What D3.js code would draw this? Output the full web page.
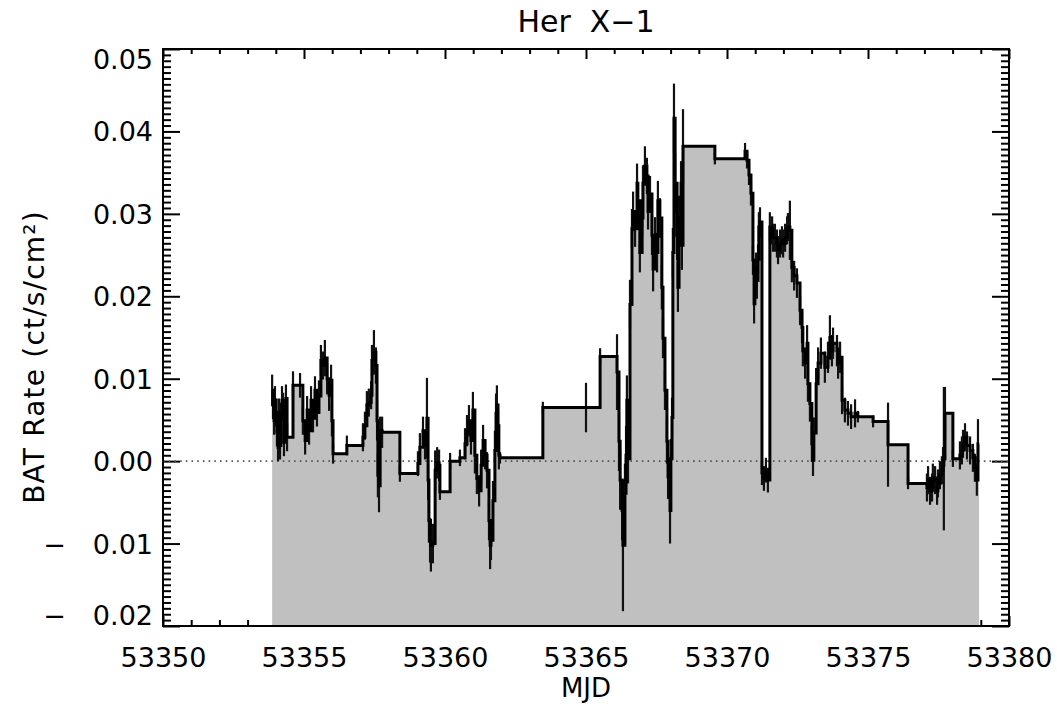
<!DOCTYPE html>
<html><head><meta charset="utf-8">
<script src="https://cdn.jsdelivr.net/npm/d3@7"></script>
<style>
body{margin:0;background:#fff}
svg text{font-family:"DejaVu Sans",sans-serif;fill:#000}
</style>
</head><body>
<svg id="chart" width="1057" height="704"></svg>
<script>
// ---- data ----
const mjd = [
53353.87,53353.90,53353.94,53353.97,53354.01,53354.04,53354.08,53354.11,53354.15,53354.18,
53354.22,53354.26,53354.29,53354.33,53354.36,53354.40,53354.61,53354.86,53354.96,53355.04,
53355.11,53355.18,53355.25,53355.32,53355.39,53355.46,53355.53,53355.60,53355.67,53355.74,
53355.82,53355.89,53355.96,53355.99,53356.03,53356.52,53357.09,53357.16,53357.23,53357.30,
53357.38,53357.41,53357.48,53357.55,53357.59,53357.62,53357.66,53357.70,53357.77,53358.40,
53359.04,53359.11,53359.22,53359.29,53359.36,53359.40,53359.43,53359.47,53359.50,53359.57,
53359.65,53359.72,53359.79,53359.82,53360.18,53360.53,53360.71,53360.78,53360.85,53360.92,
53360.99,53361.06,53361.13,53361.21,53361.28,53361.35,53361.42,53361.49,53361.56,53361.60,
53361.63,53361.70,53361.77,53361.81,53361.84,53361.88,53361.91,53361.95,53363.47,53365.00,
53365.50,53366.10,53366.17,53366.21,53366.28,53366.31,53366.38,53366.42,53366.45,53366.49,
53366.56,53366.63,53366.67,53366.74,53366.81,53366.84,53366.91,53366.99,53367.02,53367.09,
53367.16,53367.20,53367.27,53367.34,53367.38,53367.45,53367.52,53367.55,53367.62,53367.69,
53367.73,53367.80,53367.87,53367.91,53367.98,53368.01,53368.05,53368.08,53368.12,53368.16,
53368.23,53368.26,53368.30,53368.37,53368.40,53368.44,53369.57,53370.64,53370.71,53370.78,
53370.85,53370.92,53370.96,53370.99,53371.03,53371.06,53371.10,53371.13,53371.17,53371.24,
53371.31,53371.38,53371.45,53371.52,53371.60,53371.63,53371.70,53371.77,53371.81,53371.88,
53371.95,53371.99,53372.06,53372.13,53372.16,53372.23,53372.30,53372.38,53372.48,53372.59,
53372.66,53372.69,53372.77,53372.84,53372.87,53372.94,53373.01,53373.05,53373.08,53373.16,
53373.23,53373.33,53373.47,53373.58,53373.65,53373.72,53373.76,53373.90,53373.94,53374.01,
53374.08,53374.18,53374.29,53374.40,53374.54,53374.64,53375.18,53375.71,53376.42,53377.09,
53377.13,53377.20,53377.27,53377.30,53377.38,53377.45,53377.48,53377.55,53377.62,53377.66,
53377.69,53377.73,53378.01,53378.26,53378.33,53378.37,53378.44,53378.51,53378.62,53378.72,
53378.79,53378.86,53378.90
];
const rate = [
0.0086,0.0068,0.0049,0.0074,0.0059,0.0035,0.0017,0.0059,0.0019,0.0054,
0.0074,0.0066,0.0023,0.0049,0.0076,0.0029,0.0092,0.0092,0.0049,0.0025,
0.0062,0.0037,0.0074,0.0052,0.0086,0.0059,0.0079,0.0122,0.0116,0.0125,
0.0100,0.0080,0.0098,0.0049,0.0009,0.0019,0.0029,0.0043,0.0068,0.0071,
0.0080,0.0122,0.0132,0.0116,0.0049,-0.0017,-0.0030,0.0037,0.0035,-0.0015,
-0.0003,0.0017,0.0037,0.0019,0.0052,-0.0023,-0.0072,-0.0096,-0.0102,-0.0100,
-0.0011,-0.0002,-0.0005,-0.0037,0.0000,0.0004,0.0021,0.0037,0.0049,0.0025,
0.0062,0.0007,-0.0021,-0.0036,-0.0005,0.0025,0.0007,-0.0011,-0.0072,-0.0102,
-0.0096,-0.0048,0.0013,0.0058,0.0068,0.0043,0.0007,0.0004,0.0065,0.0065,
0.0127,0.0108,0.0024,-0.0023,-0.0060,-0.0102,-0.0039,0.0007,0.0074,0.0003,
0.0190,0.0282,0.0303,0.0282,0.0337,0.0316,0.0253,0.0295,0.0337,0.0358,
0.0346,0.0303,0.0324,0.0274,0.0233,0.0274,0.0253,0.0316,0.0295,0.0211,
0.0149,0.0086,0.0024,-0.0019,-0.0060,0.0003,0.0053,0.0253,0.0416,0.0337,
0.0274,0.0211,0.0295,0.0337,0.0262,0.0382,0.0367,0.0376,0.0365,0.0347,
0.0325,0.0244,0.0191,0.0213,0.0235,0.0219,0.0245,0.0284,0.0290,-0.0014,
-0.0021,-0.0011,-0.0023,0.0284,0.0280,0.0271,0.0271,0.0264,0.0256,0.0264,
0.0268,0.0264,0.0271,0.0280,0.0284,0.0280,0.0235,0.0225,0.0216,0.0183,
0.0162,0.0134,0.0119,0.0143,0.0094,0.0070,0.0021,0.0001,0.0034,0.0094,
0.0119,0.0131,0.0114,0.0126,0.0150,0.0134,0.0143,0.0134,0.0119,0.0126,
0.0074,0.0062,0.0058,0.0054,0.0058,0.0054,0.0048,0.0020,-0.0027,-0.0032,
-0.0023,-0.0036,-0.0032,-0.0020,-0.0023,-0.0036,-0.0027,-0.0017,-0.0011,-0.0005,
0.0003,0.0058,0.0003,0.0007,0.0013,0.0021,0.0029,0.0019,0.0013,0.0004,
-0.0008,-0.0023,0.0021
];
const rateErr = [
0.0019,0.0017,0.0017,0.0017,0.0017,0.0017,0.0017,0.0017,0.0017,0.0017,
0.0017,0.0017,0.0017,0.0017,0.0017,0.0017,0.0017,0.0015,0.0017,0.0017,
0.0017,0.0017,0.0017,0.0017,0.0017,0.0017,0.0019,0.0019,0.0017,0.0022,
0.0019,0.0019,0.0019,0.0019,0.0012,0.0012,0.0017,0.0017,0.0017,0.0017,
0.0017,0.0019,0.0027,0.0022,0.0024,0.0027,0.0032,0.0017,0.0019,0.0010,
0.0015,0.0017,0.0017,0.0017,0.0049,0.0024,0.0027,0.0027,0.0032,0.0024,
0.0024,0.0019,0.0019,0.0010,0.0010,0.0010,0.0019,0.0019,0.0019,0.0017,
0.0022,0.0022,0.0019,0.0019,0.0019,0.0019,0.0017,0.0022,0.0024,0.0029,
0.0024,0.0024,0.0024,0.0024,0.0024,0.0019,0.0017,0.0007,0.0007,0.0030,
0.0010,0.0046,0.0036,0.0036,0.0036,0.0080,0.0036,0.0036,0.0030,0.0030,
0.0030,0.0024,0.0024,0.0022,0.0024,0.0022,0.0024,0.0022,0.0022,0.0024,
0.0022,0.0022,0.0022,0.0024,0.0027,0.0022,0.0024,0.0024,0.0024,0.0027,
0.0024,0.0024,0.0027,0.0027,0.0040,0.0024,0.0024,0.0030,0.0042,0.0036,
0.0030,0.0030,0.0027,0.0027,0.0030,0.0045,0.0007,0.0010,0.0010,0.0012,
0.0015,0.0018,0.0024,0.0018,0.0018,0.0022,0.0018,0.0018,0.0018,0.0015,
0.0015,0.0015,0.0015,0.0018,0.0017,0.0017,0.0017,0.0017,0.0017,0.0017,
0.0017,0.0017,0.0017,0.0017,0.0017,0.0036,0.0018,0.0018,0.0018,0.0018,
0.0019,0.0019,0.0019,0.0022,0.0022,0.0022,0.0022,0.0019,0.0019,0.0019,
0.0019,0.0019,0.0019,0.0019,0.0027,0.0019,0.0019,0.0019,0.0019,0.0019,
0.0017,0.0015,0.0015,0.0015,0.0017,0.0007,0.0007,0.0051,0.0007,0.0017,
0.0017,0.0017,0.0017,0.0017,0.0017,0.0017,0.0017,0.0017,0.0017,0.0022,
0.0087,0.0032,0.0010,0.0017,0.0017,0.0017,0.0017,0.0017,0.0017,0.0017,
0.0017,0.0019,0.0030
];
const mjdEnd = 53378.94;
const xDomain = [53350, 53380];
const yDomain = [-0.02, 0.05];
const xTickValues = [53350, 53355, 53360, 53365, 53370, 53375, 53380];
const yTickValues = [-0.02, -0.01, 0.00, 0.01, 0.02, 0.03, 0.04, 0.05];
const titleText = "Her  X\u22121";
const xLabelText = "MJD";
const yLabelText = "BAT Rate (ct/s/cm\u00B2)";

// ---- layout ----
const L = 163, R = 1009, T = 49, B = 626;
const svg = d3.select("#chart");
const x = d3.scaleLinear(xDomain, [L, R]);
const y = d3.scaleLinear(yDomain, [B, T]);

const xMinor = d3.range(xDomain[0], xDomain[1] + 0.5, 1).filter(v => (v - xDomain[0]) % 5 !== 0);
const yMinor = d3.range(0, 99).map(k => yDomain[0] + k * 0.01 / 14).filter((v, k) => k % 14 !== 0);

// IDL-style labels: wide gap after the minus sign
const fmtY = v => {
  const s = d3.format(".2f")(Math.abs(v));
  return v < -1e-9 ? "\u2212\u2003" + s : s;
};

function tickAxis(gen, tx, ty, values, size) {
  const g = svg.append("g").attr("transform", `translate(${tx},${ty})`)
    .call(gen.tickValues(values).tickSizeInner(size).tickSizeOuter(0).tickFormat(""));
  g.select(".domain").remove();
  g.selectAll("line").attr("stroke", "#000").attr("stroke-width", 2);
  g.selectAll("text").remove();
  return g;
}
// ticks (all four sides), drawn under the fill
tickAxis(d3.axisLeft(y), L, 0, yTickValues, -17);
tickAxis(d3.axisLeft(y), L, 0, yMinor, -8);
tickAxis(d3.axisRight(y), R, 0, yTickValues, -17);
tickAxis(d3.axisRight(y), R, 0, yMinor, -8);
tickAxis(d3.axisTop(x), 0, T, xTickValues, -10);
tickAxis(d3.axisTop(x), 0, T, xMinor, -5);
tickAxis(d3.axisBottom(x), 0, B, xTickValues, -10);
tickAxis(d3.axisBottom(x), 0, B, xMinor, -6);

// ---- data marks ----
const pts = mjd.map((t, i) => [t, rate[i]]);
pts.push([mjdEnd, rate[rate.length - 1]]);

svg.append("path")
  .attr("d", d3.area().x(d => x(d[0])).y0(y(yDomain[0])).y1(d => y(d[1])).curve(d3.curveStepAfter)(pts))
  .attr("fill", "#c0c0c0");

// zero line
svg.append("line")
  .attr("x1", L).attr("x2", R).attr("y1", y(0)).attr("y2", y(0))
  .attr("stroke", "#555").attr("stroke-width", 1.6).attr("stroke-dasharray", "1.6,4.1");

// error bars
svg.append("g").selectAll("line").data(mjd).join("line")
  .attr("x1", d => x(d)).attr("x2", d => x(d))
  .attr("y1", (d, i) => y(rate[i] - rateErr[i]))
  .attr("y2", (d, i) => y(rate[i] + rateErr[i]))
  .attr("stroke", "#111").attr("stroke-width", 2.2);

// step curve
svg.append("path")
  .attr("d", d3.line().x(d => x(d[0])).y(d => y(d[1])).curve(d3.curveStepAfter)(pts))
  .attr("fill", "none").attr("stroke", "#000").attr("stroke-width", 3).attr("stroke-linejoin", "miter");

// frame
svg.append("rect").attr("x", L).attr("y", T).attr("width", R - L).attr("height", B - T)
  .attr("fill", "none").attr("stroke", "#000").attr("stroke-width", 2);

// ---- labels ----
const yl = svg.append("g").attr("transform", `translate(${L},0)`)
  .call(d3.axisLeft(y).tickValues(yTickValues).tickSize(0).tickPadding(10).tickFormat(fmtY));
yl.select(".domain").remove();
yl.selectAll("text").attr("font-size", 27).attr("font-family", "DejaVu Sans")
  .attr("dy", null).style("white-space", "pre")
  .attr("y", d => Math.min(Math.max(0, T + 10 - y(d)), B - 11 - y(d)) + 9.5);

const xl = svg.append("g").attr("transform", `translate(0,${B})`)
  .call(d3.axisBottom(x).tickValues(xTickValues).tickSize(0).tickPadding(0).tickFormat(d3.format("d")));
xl.select(".domain").remove();
xl.selectAll("text").attr("font-size", 27).attr("font-family", "DejaVu Sans")
  .attr("dy", null).attr("y", 667 - B);

svg.append("text").attr("x", (L + R) / 2).attr("y", 32).attr("text-anchor", "middle")
  .attr("font-size", 30).style("white-space", "pre").text(titleText);
svg.append("text").attr("x", (L + R) / 2).attr("y", 697).attr("text-anchor", "middle")
  .attr("font-size", 26).text(xLabelText);
svg.append("text").attr("transform", "translate(44,357) rotate(-90)").attr("text-anchor", "middle")
  .attr("font-size", 28).attr("letter-spacing", 1.2).text(yLabelText);
</script>
</body></html>
